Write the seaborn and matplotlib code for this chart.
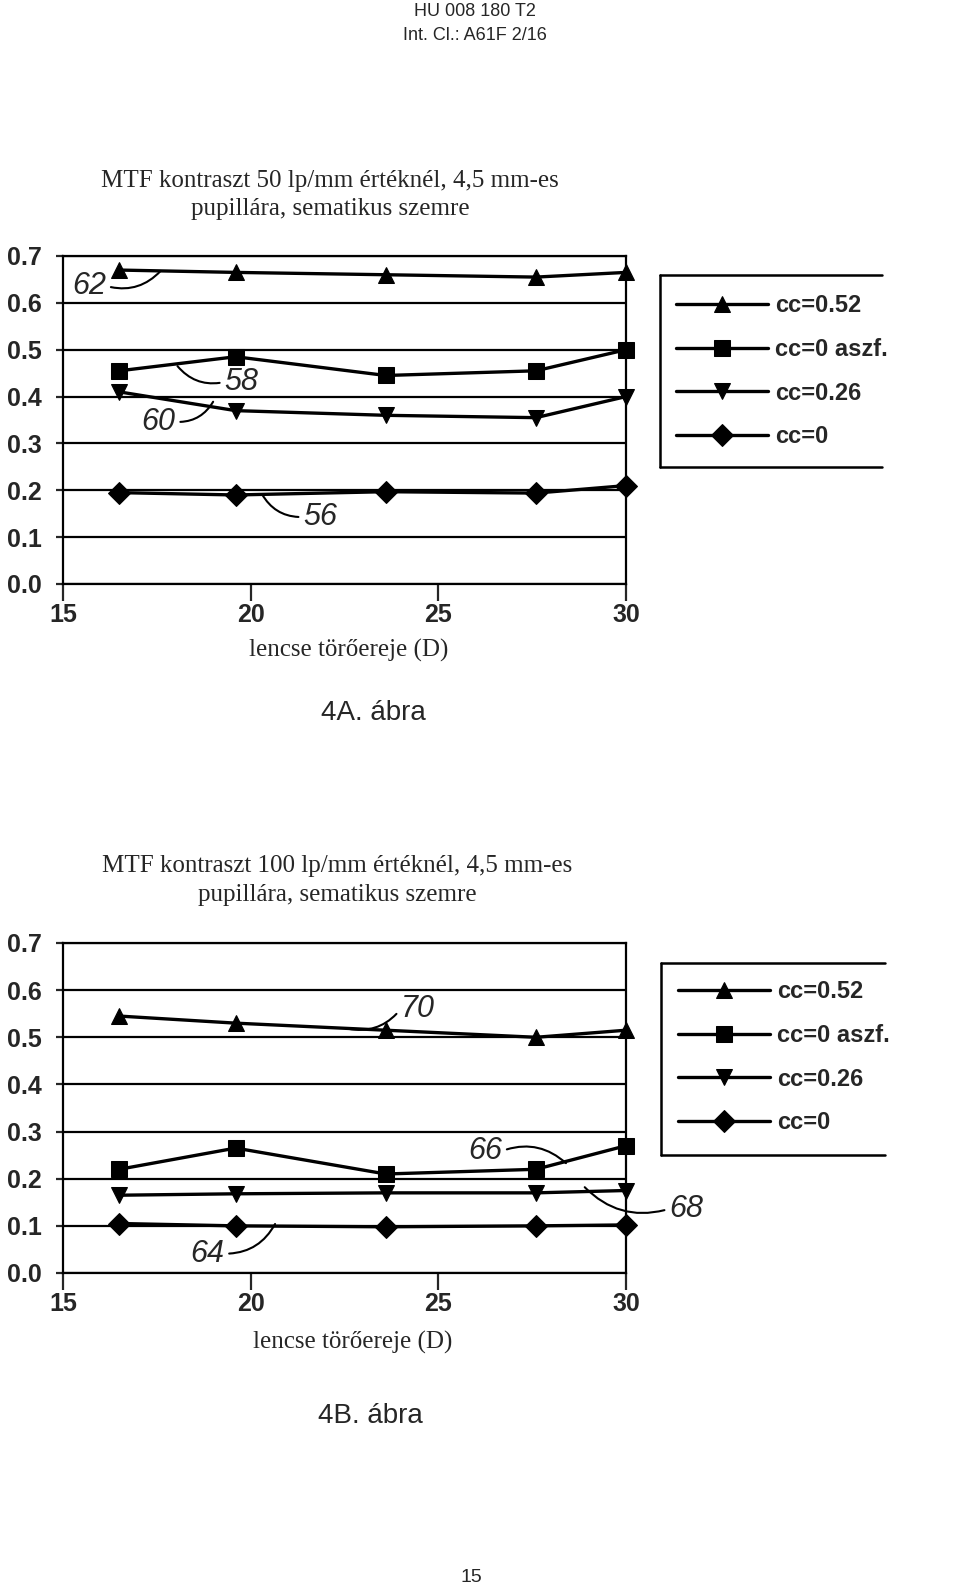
import pandas as pd
import matplotlib
matplotlib.use('Agg')
import matplotlib.pyplot as plt
from matplotlib.lines import Line2D
import seaborn as sns

# lens power (D) at the measured points
x_vals = [16.5, 19.6, 23.6, 27.6, 30.0]
series_names = ['cc=0.52', 'cc=0 aszf.', 'cc=0.26', 'cc=0']

# 4A: 50 lp/mm
a_052 = [0.67, 0.665, 0.66, 0.655, 0.665]
a_0asz = [0.455, 0.485, 0.445, 0.455, 0.50]
a_026 = [0.41, 0.37, 0.36, 0.355, 0.40]
a_0 = [0.195, 0.19, 0.197, 0.194, 0.21]

# 4B: 100 lp/mm
b_052 = [0.545, 0.53, 0.515, 0.50, 0.515]
b_0asz = [0.22, 0.265, 0.21, 0.22, 0.27]
b_026 = [0.165, 0.168, 0.17, 0.17, 0.175]
b_0 = [0.105, 0.10, 0.098, 0.10, 0.102]

y_ticks = [0.0, 0.1, 0.2, 0.3, 0.4, 0.5, 0.6, 0.7]
x_ticks = [15, 20, 25, 30]

sns.set_style('white')
plt.rcParams['font.family'] = ['Liberation Sans', 'DejaVu Sans']

W, H = 960, 1586
fig = plt.figure(figsize=(9.6, 15.86), dpi=100)


def fx(px):
    return px / W


def fy(py):
    return 1 - py / H


def long_df(cols):
    rows = []
    for name, vals in zip(series_names, cols):
        for x, y in zip(x_vals, vals):
            rows.append({'x': x, 'y': y, 'series': name})
    return pd.DataFrame(rows)


markers = {'cc=0.52': '^', 'cc=0 aszf.': 's', 'cc=0.26': 'v', 'cc=0': 'D'}
pal = {n: 'black' for n in series_names}


def draw(ax, df):
    sns.lineplot(data=df, x='x', y='y', hue='series', style='series',
                 hue_order=series_names, style_order=series_names,
                 markers=markers, dashes=False, palette=pal, ax=ax,
                 markersize=11.5, linewidth=2.4, markeredgecolor='black',
                 clip_on=False, zorder=3)
    ax.set_xlim(15, 30)
    ax.set_ylim(0, 0.7)
    ax.set_xticks(x_ticks)
    ax.set_yticks(y_ticks)
    ax.set_yticklabels(['%.1f' % v for v in y_ticks])
    ax.set_xlabel('')
    ax.set_ylabel('')
    ax.yaxis.grid(True, color='black', lw=1.6)
    ax.xaxis.grid(False)
    for s in ax.spines.values():
        s.set_color('black')
        s.set_linewidth(1.6)
    ax.tick_params(axis='x', direction='out', length=12, width=1.6,
                   labelsize=18, pad=2, bottom=True)
    ax.tick_params(axis='y', direction='out', length=5, width=1.6,
                   labelsize=18, pad=10, left=True)
    for t in ax.get_xticklabels() + ax.get_yticklabels():
        t.set_fontweight('bold')
    handles, labels = ax.get_legend_handles_labels()
    ax.get_legend().remove()
    return handles, labels


def leg_box(handles, labels, left, top, right, bottom, first_y, hx):
    fig.legend(handles, labels, loc='upper left',
               bbox_to_anchor=(fx(hx), fy(first_y - 14)),
               bbox_transform=fig.transFigure, frameon=False,
               borderpad=0, borderaxespad=0, handlelength=3.9,
               handletextpad=0.3, labelspacing=0.88,
               prop={'family': 'Liberation Sans', 'weight': 'bold', 'size': 17})
    for xs, ys in [([left, right], [top, top]), ([left, right], [bottom, bottom]),
                   ([left, left], [top, bottom])]:
        fig.add_artist(Line2D([fx(v) for v in xs], [fy(v) for v in ys],
                              color='black', lw=1.8))


def note(ax, txt, xy, xytext, side, rad):
    ax.annotate(txt, xy=xy, xytext=xytext, fontsize=22, style='italic',
                ha='center', va='center', annotation_clip=False,
                arrowprops=dict(arrowstyle='-', color='black', lw=1.5,
                                connectionstyle='arc3,rad=%s' % rad,
                                relpos=(1, 0.5) if side == 'r' else (0, 0.5),
                                shrinkA=1, shrinkB=0))


# header
fig.text(fx(475), fy(12), 'HU 008 180 T2', ha='center', va='center', fontsize=13)
fig.text(fx(475), fy(35), 'Int. Cl.: A61F 2/16', ha='center', va='center', fontsize=13)

serif = ['Liberation Serif', 'DejaVu Serif']

# chart 4A
ax1 = fig.add_axes([fx(63), fy(584), fx(626 - 63), (584 - 256) / H])
h1, l1 = draw(ax1, long_df([a_052, a_0asz, a_026, a_0]))
fig.text(fx(330), fy(181), 'MTF kontraszt 50 lp/mm értéknél, 4,5 mm-es',
         ha='center', va='center', fontsize=18, family=serif)
fig.text(fx(330), fy(209), 'pupillára, sematikus szemre',
         ha='center', va='center', fontsize=18, family=serif)
fig.text(fx(349), fy(650), 'lencse törőereje (D)', ha='center', va='center',
         fontsize=18, family=serif)
fig.text(fx(373), fy(713), '4A. ábra', ha='center', va='center', fontsize=20)
leg_box(h1, l1, 660, 275, 882, 467, 308, 676)
note(ax1, '62', (17.6, 0.668), (15.7, 0.636), 'r', 0.3)
note(ax1, '58', (18.05, 0.465), (19.75, 0.431), 'l', -0.3)
note(ax1, '60', (19.0, 0.389), (17.55, 0.346), 'r', 0.3)
note(ax1, '56', (20.3, 0.192), (21.85, 0.143), 'l', -0.3)

# chart 4B
ax2 = fig.add_axes([fx(63), fy(1273), fx(626 - 63), (1273 - 943) / H])
h2, l2 = draw(ax2, long_df([b_052, b_0asz, b_026, b_0]))
fig.text(fx(337), fy(866), 'MTF kontraszt 100 lp/mm értéknél, 4,5 mm-es',
         ha='center', va='center', fontsize=18, family=serif)
fig.text(fx(337), fy(895), 'pupillára, sematikus szemre',
         ha='center', va='center', fontsize=18, family=serif)
fig.text(fx(353), fy(1342), 'lencse törőereje (D)', ha='center', va='center',
         fontsize=18, family=serif)
fig.text(fx(370), fy(1416), '4B. ábra', ha='center', va='center', fontsize=20)
leg_box(h2, l2, 661, 963, 885, 1155, 994, 678)
note(ax2, '70', (22.6, 0.518), (24.45, 0.56), 'l', -0.3)
note(ax2, '66', (28.4, 0.233), (26.25, 0.259), 'r', -0.3)
note(ax2, '68', (28.9, 0.182), (31.6, 0.136), 'l', -0.3)
note(ax2, '64', (20.65, 0.104), (18.85, 0.041), 'r', 0.3)

fig.text(fx(471), fy(1577), '15', ha='center', va='center', fontsize=14)

fig.savefig('out.png', dpi=100)
